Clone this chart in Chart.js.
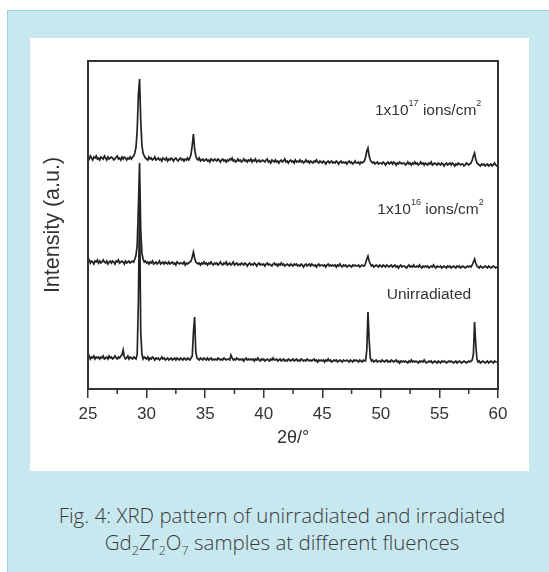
<!DOCTYPE html>
<html>
<head>
<meta charset="utf-8">
<script src="https://cdn.jsdelivr.net/npm/chart.js@4.4.1/dist/chart.umd.min.js"></script>
<style>
  html, body { margin: 0; padding: 0; background: #fff; }
  body { width: 549px; height: 572px; position: relative; overflow: hidden; }
  .panel { position: absolute; left: 7px; top: 10px; right: 0; bottom: 0; background: #c8e8f0; border-left: 1px solid #9dd4e2; border-top: 1px solid #9dd4e2; }
  .plot { position: absolute; left: 30px; top: 38px; width: 499px; height: 433px; background: #fff; }
  .caption { position: absolute; left: 30px; width: 504px; top: 502px; text-align: center; font: 300 20.5px 'Open Sans', sans-serif; color: #3a3a3a; line-height: 27px; }
  .caption sub { font-size: 12.5px; line-height: 0; }
</style>
</head>
<body>
<div class="panel"></div>
<div class="plot"><canvas id="xrd" width="499" height="433" style="width:499px;height:433px"></canvas></div>
<div class="caption">Fig. 4: XRD pattern of unirradiated and irradiated<br>Gd<sub>2</sub>Zr<sub>2</sub>O<sub>7</sub> samples at different fluences</div>
<script>
// intensities (a.u.) sampled every 0.1 deg from 25.0 to 60.0, one row per degree
const fluence17 = [
  8,6,9,7,5,8,7,9,6,7,
  5,8,7,6,9,7,5,8,6,7,
  8,7,5,6,8,9,6,7,5,8,
  6,8,7,5,7,6,8,6,8,9,
  12,18,35,70,86,45,20,12,9,7,
  6,5,8,6,7,5,6,8,5,6,
  7,5,6,4,7,6,5,7,4,6,
  5,7,6,4,6,7,5,4,6,7,
  5,6,4,6,5,7,5,7,11,20,
  31,16,9,6,5,7,4,5,6,4,
  5,6,4,5,3,6,5,4,6,5,
  4,6,5,3,5,6,4,5,3,5,
  4,6,5,7,4,5,3,4,6,4,
  5,3,4,6,4,5,3,5,4,6,
  3,5,4,6,3,4,5,3,4,5,
  4,3,5,6,3,4,2,5,4,3,
  5,3,4,2,4,5,3,4,6,3,
  4,2,4,5,3,4,2,5,3,4,
  3,5,3,4,2,3,5,3,4,2,
  4,3,2,4,3,5,3,2,4,3,
  2,4,3,1,3,4,2,3,4,2,
  3,2,4,3,1,3,4,2,3,2,
  3,1,3,4,2,3,1,2,4,2,
  2,3,1,3,2,3,4,8,14,17,
  9,5,3,2,3,1,2,3,1,2,
  2,1,3,2,0,2,3,1,2,3,
  1,3,2,0,2,1,3,2,1,2,
  2,0,1,3,1,2,0,2,1,3,
  1,2,0,1,3,1,2,0,2,1,
  0,2,1,3,0,1,2,1,0,2,
  1,0,2,1,-1,1,2,0,1,2,
  0,2,1,-1,1,0,2,1,0,1,
  1,-1,0,2,1,0,1,2,5,9,
  12,6,2,1,0,-1,1,0,1,-1,
  0,1,-1,0,1,-1,0,2,0,-1,
  0
];

const fluence16 = [
  5,7,4,6,5,3,6,5,7,4,
  6,4,5,7,5,4,6,3,5,6,
  4,6,5,3,6,5,7,4,5,6,
  5,3,6,4,5,6,4,5,6,5,
  8,12,22,60,104,38,14,8,5,6,
  4,5,3,5,4,6,3,4,5,3,
  4,6,3,4,5,3,5,4,3,5,
  3,4,5,3,4,2,5,4,3,4,
  4,3,5,2,4,3,4,5,6,10,
  15,9,5,4,3,4,2,4,3,5,
  3,4,2,4,3,5,3,2,4,3,
  4,2,3,5,3,2,4,3,5,2,
  3,4,2,3,5,2,3,4,2,3,
  2,4,3,2,4,3,1,3,4,2,
  3,2,4,3,1,3,4,2,3,2,
  3,1,3,4,2,3,2,1,3,4,
  2,3,1,3,2,4,2,3,1,2,
  3,2,1,3,2,1,3,2,3,1,
  2,1,3,2,0,2,3,1,2,3,
  1,3,2,1,2,0,2,3,1,2,
  2,1,2,0,2,3,1,2,1,2,
  1,2,0,2,1,3,1,0,2,1,
  2,0,1,2,1,0,2,1,2,1,
  1,2,0,1,2,1,1,4,8,11,
  6,3,1,2,0,1,2,1,0,2,
  1,0,2,1,0,2,1,0,1,2,
  0,1,2,0,1,-1,1,2,0,1,
  1,0,-1,1,2,0,1,0,2,0,
  0,1,0,2,0,-1,1,0,1,0,
  1,-1,0,1,0,2,0,-1,1,0,
  0,1,-1,0,1,0,-1,1,0,1,
  -1,0,1,0,-1,1,0,1,-1,0,
  1,0,-1,0,1,0,1,0,2,5,
  8,4,1,0,-1,1,0,-1,0,1,
  0,-1,1,0,-1,0,1,0,-1,0,
  0
];

const unirradiated = [
  4,6,3,5,4,6,3,5,4,5,
  3,5,4,6,3,4,5,3,6,4,
  5,3,4,6,4,3,5,4,6,7,
  12,5,3,4,6,3,5,4,3,5,
  4,3,8,60,158,30,8,3,5,4,
  3,5,2,4,3,5,4,2,4,3,
  4,2,3,5,3,4,2,3,4,2,
  3,4,2,3,4,2,4,3,2,4,
  3,2,4,3,2,4,3,2,4,6,
  30,45,10,4,3,2,4,3,2,4,
  3,2,4,2,3,4,2,3,2,3,
  2,4,3,2,3,2,4,3,2,3,
  3,2,7,4,2,3,2,4,3,2,
  3,2,3,1,3,4,2,3,2,3,
  2,3,1,3,2,4,2,1,3,2,
  3,1,2,3,2,1,3,2,4,2,
  2,3,1,2,3,1,2,3,1,2,
  1,3,2,1,2,3,1,2,3,1,
  2,1,3,2,1,2,1,3,2,1,
  2,1,2,3,1,2,0,2,1,2,
  1,2,0,2,1,3,1,2,0,1,
  2,1,2,0,1,2,1,0,2,1,
  1,2,1,0,2,1,0,2,1,2,
  1,0,2,1,0,2,1,1,12,50,
  22,4,1,2,0,1,2,0,1,1,
  0,2,1,0,1,2,0,1,0,2,
  1,0,1,2,0,1,-1,1,0,1,
  0,1,0,-1,1,0,2,0,1,0,
  1,0,-1,1,0,1,0,2,0,-1,
  0,1,0,1,-1,0,1,0,-1,1,
  0,-1,1,0,1,0,-1,0,1,0,
  1,0,-1,0,1,-1,0,1,0,-1,
  0,1,0,-1,0,1,0,1,2,8,
  40,18,3,0,1,-1,0,1,0,-1,
  0,1,-1,0,1,0,-1,1,0,0,
  0
];

const seriesData = [fluence17, fluence16, unirradiated];
const seriesOffsets = [224, 122, 27];
const twoTheta = fluence17.map((_, i) => +(25 + i * 0.1).toFixed(1));
const xTicks = [25, 30, 35, 40, 45, 50, 55, 60];
const xMinorTicks = [27.5, 32.5, 37.5, 42.5, 47.5, 52.5, 57.5];

const curveLabels = [
  { x: 49.5, y: 278, parts: [['1x10'], ['17', true], [' ions/cm'], ['2', true]] },
  { x: 49.7, y: 179, parts: [['1x10'], ['16', true], [' ions/cm'], ['2', true]] },
  { x: 50.5, y: 94, parts: [['Unirradiated']] }
];

const ink = '#333';
const font = 'Liberation Sans, Arial, sans-serif';

const framePlugin = {
  id: 'frame',
  afterDatasetsDraw(chart) {
    const { ctx, chartArea: a, scales: { x, y } } = chart;
    ctx.save();
    ctx.strokeStyle = ink;
    ctx.lineWidth = 2;
    ctx.strokeRect(a.left, a.top, a.right - a.left, a.bottom - a.top);

    ctx.lineWidth = 1.5;
    ctx.beginPath();
    xMinorTicks.forEach(v => {
      const px = x.getPixelForValue(v);
      ctx.moveTo(px, a.bottom);
      ctx.lineTo(px, a.bottom + 5);
    });
    ctx.stroke();

    ctx.fillStyle = ink;
    ctx.textBaseline = 'middle';
    curveLabels.forEach(l => {
      let px = x.getPixelForValue(l.x);
      const py = y.getPixelForValue(l.y);
      l.parts.forEach(([text, sup]) => {
        ctx.font = (sup ? '9px ' : '15.5px ') + font;
        ctx.fillText(text, px, sup ? py - 7 : py);
        px += ctx.measureText(text).width;
      });
    });
    ctx.restore();
  }
};

new Chart(document.getElementById('xrd'), {
  type: 'line',
  data: {
    datasets: seriesData.map((values, s) => ({
      data: values.map((v, i) => ({ x: twoTheta[i], y: v + seriesOffsets[s] })),
      borderColor: '#222',
      borderWidth: 1.7,
      pointRadius: 0,
      tension: 0
    }))
  },
  options: {
    responsive: false,
    animation: false,
    layout: { padding: { top: 23, right: 31, left: 0, bottom: 0 } },
    plugins: {
      legend: { display: false },
      tooltip: { enabled: false }
    },
    scales: {
      x: {
        type: 'linear',
        min: 25,
        max: 60,
        afterBuildTicks: scale => { scale.ticks = xTicks.map(v => ({ value: v })) },
        afterFit: scale => { scale.height = 82 },
        grid: { drawOnChartArea: false, tickLength: 9, color: ink, lineWidth: 1.5 },
        border: { display: false },
        ticks: { color: ink, font: { size: 17, family: font }, padding: 6, maxRotation: 0, autoSkip: false },
        title: { display: true, text: '2θ/°', color: ink, font: { size: 18, family: font }, padding: { top: 0, bottom: 22 } }
      },
      y: {
        min: 0,
        max: 328,
        afterFit: scale => { scale.width = 58 },
        grid: { display: false },
        border: { display: false },
        ticks: { display: false },
        title: { display: true, text: 'Intensity (a.u.)', color: ink, font: { size: 21.5, family: font }, padding: { top: 10, bottom: 0 } }
      }
    }
  },
  plugins: [framePlugin]
});
</script>
</body>
</html>
